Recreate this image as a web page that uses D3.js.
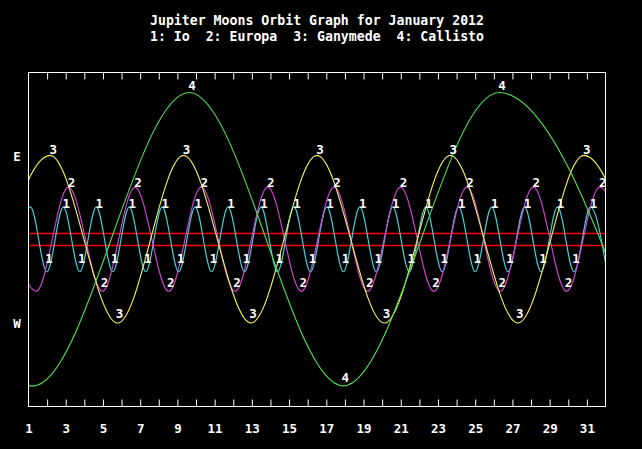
<!DOCTYPE html>
<html><head><meta charset="utf-8">
<script src="https://cdn.jsdelivr.net/npm/d3@7/dist/d3.min.js"></script>
<style>html,body{margin:0;padding:0;background:#000;overflow:hidden}</style>
</head><body><svg id="c" width="642" height="449"></svg>
<script>
// ---- data ----
const titleLines = ["Jupiter Moons Orbit Graph for January 2012", "1: Io  2: Europa  3: Ganymede  4: Callisto"];
const tickDays = [1, 3, 5, 7, 9, 11, 13, 15, 17, 19, 21, 23, 25, 27, 29, 31];
const minorTickDays = [2,3,4,5,6,7,8,9,10,11,12,13,14,15,16,17,18,19,20,21,22,23,24,25,26,27,28,29,30,31];
const sideLabels = ["E", "W"];
const sideValues = [15, -15];
const jupiterDisk = [1, -1];

// elongation extrema (days of January, Jupiter radii; + = east)
const ioDays = [0.219, 1.104, 1.989, 2.874, 3.759, 4.644, 5.529, 6.414, 7.299, 8.184, 9.069, 9.954, 10.839, 11.724, 12.609, 13.494, 14.379, 15.264, 16.149, 17.034, 17.919, 18.804, 19.689, 20.574, 21.459, 22.344, 23.229, 24.114, 24.999, 25.884, 26.769, 27.654, 28.539, 29.424, 30.309, 31.194, 32.079];
const ioValues = [-5.8, 5.85, -5.8, 5.85, -5.8, 5.85, -5.8, 5.85, -5.8, 5.85, -5.8, 5.85, -5.8, 5.85, -5.8, 5.85, -5.8, 5.85, -5.8, 5.85, -5.8, 5.85, -5.8, 5.85, -5.8, 5.85, -5.8, 5.85, -5.8, 5.85, -5.8, 5.85, -5.8, 5.85, -5.8, 5.85, -5.8];

const europaDays = [-0.42, 1.413, 3.148, 4.975, 6.716, 8.537, 10.284, 12.099, 13.852, 15.661, 17.42, 19.223, 20.988, 22.785, 24.556, 26.347, 28.124, 29.909, 31.692, 33.47];
const europaValues = [9.4, -9.3, 9.4, -9.3, 9.4, -9.3, 9.4, -9.3, 9.4, -9.3, 9.4, -9.3, 9.4, -9.3, 9.4, -9.3, 9.4, -9.3, 9.4, -9.3];

const ganymedeDays = [-1.378, 2.165, 5.789, 9.332, 12.956, 16.499, 20.123, 23.666, 27.29, 30.833, 34.457];
const ganymedeValues = [-15.0, 15.1, -15.0, 15.1, -15.0, 15.1, -15.0, 15.1, -15.0, 15.1, -15.0];

const callistoDays = [-7.0, 1.25, 9.63, 17.91, 26.28, 34.6];
const callistoValues = [26.4, -26.3, 26.4, -26.3, 26.4, -26.3];

const moonLabels = ["1", "2", "3", "4"];
const moonColors = ["#3fd2da", "#d444d4", "#f0f05a", "#4fdc4f"];

// ---- drawing ----
const moons = [
  {label: moonLabels[0], days: ioDays, values: ioValues, color: moonColors[0], peakDy: -3, troughDy: -13},
  {label: moonLabels[1], days: europaDays, values: europaValues, color: moonColors[1], peakDy: -5, troughDy: -9},
  {label: moonLabels[2], days: ganymedeDays, values: ganymedeValues, color: moonColors[2], peakDy: -6, troughDy: -9.5},
  {label: moonLabels[3], days: callistoDays, values: callistoValues, color: moonColors[3], peakDy: -7, troughDy: -8.5}
];

const W = 642, H = 449;
const L = 28.5, R = 605.5, T = 72.5, B = 406.5;
const x = d3.scaleLinear().domain([1, 32]).range([L, R]);
const y = d3.scaleLinear().domain([-30, 30]).range([B, T]);
const font = "'DejaVu Sans Mono', 'Liberation Mono', monospace";

const svg = d3.select("#c");
svg.append("rect").attr("width", W).attr("height", H).attr("fill", "#000");

// title
svg.selectAll("text.title").data(titleLines).join("text")
  .attr("class", "title")
  .attr("x", 317).attr("y", (d, i) => 25 + i * 15.5)
  .attr("text-anchor", "middle")
  .attr("textLength", 334).attr("lengthAdjust", "spacingAndGlyphs")
  .attr("fill", "#fff").attr("font-family", font).attr("font-weight", "bold").attr("font-size", "13.3px")
  .attr("xml:space", "preserve").style("white-space", "pre")
  .text(d => d);

// clip
svg.append("clipPath").attr("id", "plotclip").append("rect")
  .attr("x", L).attr("y", T).attr("width", R - L).attr("height", B - T);

// Jupiter disk lines
svg.append("g").selectAll("line").data(jupiterDisk).join("line")
  .attr("x1", L).attr("x2", R)
  .attr("y1", d => Math.round(y(d) - 0.5) + 0.5).attr("y2", d => Math.round(y(d) - 0.5) + 0.5)
  .attr("stroke", "#ff0000").attr("stroke-width", 1.3);

// curves
const line = d3.line().x(d => x(d.day)).y(d => y(d.v)).curve(d3.curveMonotoneX);
const gCurves = svg.append("g").attr("clip-path", "url(#plotclip)");
moons.forEach(m => {
  const pts = m.days.map((d, i) => ({day: d, v: m.values[i]}));
  gCurves.append("path").datum(pts).attr("d", line)
    .attr("fill", "none").attr("stroke", m.color).attr("stroke-width", 1.15);
});

// extremum labels
const gLab = svg.append("g");
moons.forEach(m => {
  const pts = m.days.map((d, i) => ({day: d, v: m.values[i]})).filter(p => p.day >= 1.5 && p.day <= 32);
  gLab.selectAll(null).data(pts).join("text")
    .attr("x", p => x(p.day) + (p.v > 0 ? 3 : 2))
    .attr("y", p => y(p.v) + (p.v > 0 ? m.peakDy : m.troughDy))
    .attr("text-anchor", "middle").attr("dominant-baseline", "central")
    .attr("fill", "#fff").attr("font-family", font).attr("font-weight", "bold").attr("font-size", "12.5px")
    .text(m.label);
});

// frame
svg.append("rect").attr("x", L).attr("y", T).attr("width", R - L).attr("height", B - T)
  .attr("fill", "none").attr("stroke", "#fff").attr("stroke-width", 1);

// ticks (top & bottom, inward)
const topAxis = d3.axisTop(x).tickValues(minorTickDays).tickSize(-7).tickFormat("");
const botAxis = d3.axisBottom(x).tickValues(minorTickDays).tickSize(-7).tickFormat("");
[[topAxis, T], [botAxis, B]].forEach(([ax, ty]) => {
  const g = svg.append("g").attr("transform", `translate(0,${ty})`).call(ax);
  g.select(".domain").remove();
  g.selectAll(".tick line").attr("stroke", "#fff");
});

// day labels
const labAxis = d3.axisBottom(x).tickValues(tickDays).tickSize(0).tickFormat(d3.format("d"));
const gl = svg.append("g").attr("transform", `translate(0,${B})`).call(labAxis);
gl.select(".domain").remove();
gl.selectAll(".tick text")
  .attr("y", 26).attr("dy", null)
  .attr("fill", "#fff").attr("font-family", font).attr("font-weight", "bold").attr("font-size", "12.5px");

// E / W
svg.selectAll("text.side").data(sideLabels).join("text")
  .attr("class", "side")
  .attr("x", 17).attr("y", (d, i) => y(sideValues[i]))
  .attr("text-anchor", "middle").attr("dominant-baseline", "central")
  .attr("fill", "#fff").attr("font-family", font).attr("font-weight", "bold").attr("font-size", "12.5px")
  .text(d => d);
</script>
</body></html>
